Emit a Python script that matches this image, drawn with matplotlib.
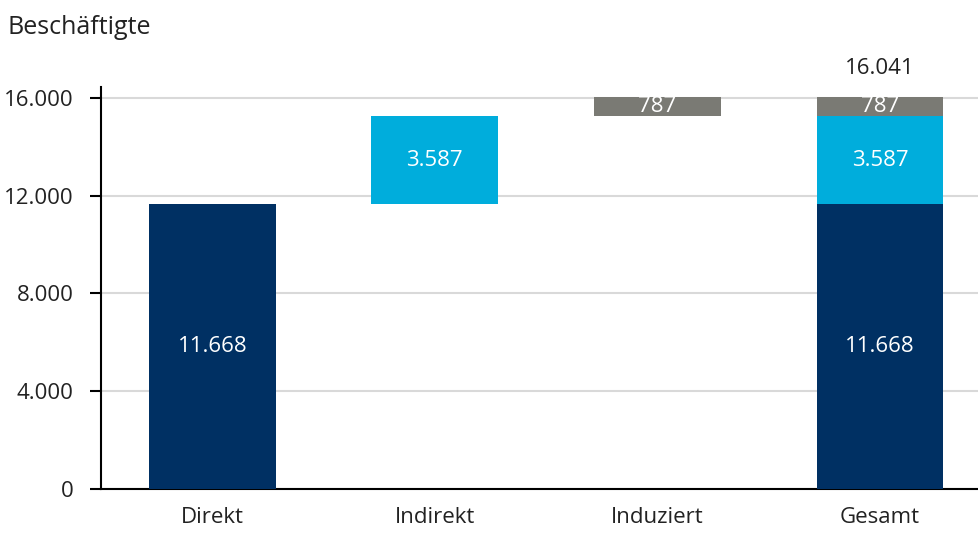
import matplotlib
matplotlib.use("Agg")
import matplotlib.pyplot as plt
from matplotlib.ticker import FuncFormatter

categories = ["Direkt", "Indirekt", "Induziert", "Gesamt"]
components = ["Direkt", "Indirekt", "Induziert"]
values = [11668, 3587, 787]
total_label = 16041
colors = ["#003063", "#00ADDC", "#7A7A74"]
yticks = [0, 4000, 8000, 12000, 16000]

def de(v):
    return f"{v:,.0f}".replace(",", ".")

plt.rcParams['font.family'] = ['Open Sans', 'DejaVu Sans']
fig = plt.figure(figsize=(9.79, 5.33), dpi=100)
ax = fig.add_axes([0.1032, 0.0826, 0.8968, 0.7542])

fs = 16
w = 0.57
bottom = 0
for i, (v, c) in enumerate(zip(values, colors)):
    # waterfall bar
    ax.bar(i, v, bottom=bottom, width=w, color=c, zorder=3)
    ax.text(i, bottom + v / 2, de(v), ha="center", va="center", color="white", fontsize=fs, zorder=4)
    # stacked total bar
    ax.bar(3, v, bottom=bottom, width=w, color=c, zorder=3)
    ax.text(3, bottom + v / 2, de(v), ha="center", va="center", color="white", fontsize=fs, zorder=4)
    bottom += v

ax.text(3, 17200, de(total_label), ha="center", va="center", fontsize=fs, color="#222222", clip_on=False)

ax.set_xlim(-0.5, 3.445)
ax.set_ylim(0, 16450)
ax.set_yticks(yticks)
ax.yaxis.set_major_formatter(FuncFormatter(lambda v, p: de(v)))
ax.set_xticks(range(len(categories)))
ax.set_xticklabels(categories)
ax.tick_params(axis="y", length=8, width=1.5, labelsize=fs, pad=12, colors="black")
ax.tick_params(axis="x", length=0, labelsize=fs, pad=13)
for lab in ax.get_xticklabels() + ax.get_yticklabels():
    lab.set_color("#222222")

ax.grid(axis="y", color="#D9D9D9", linewidth=1.5, zorder=0)
for s in ["top", "right"]:
    ax.spines[s].set_visible(False)
ax.spines["left"].set_linewidth(1.5)
ax.spines["bottom"].set_linewidth(1.5)
ax.spines["left"].set_zorder(5)

fig.text(8 / 979, 1 - 28 / 533, "Beschäftigte", ha="left", va="center", fontsize=18, color="#222222")

fig.savefig("out.png", dpi=100)
